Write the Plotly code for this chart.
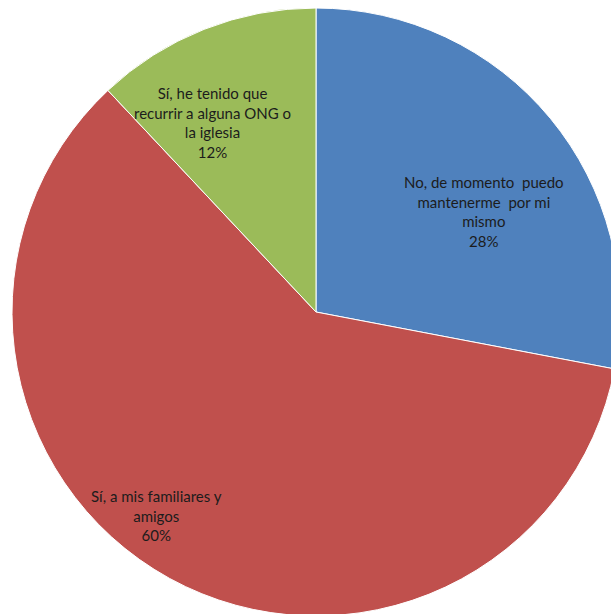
import plotly.graph_objects as go

categories = [
    "No, de momento puedo mantenerme por mi mismo",
    "Sí, a mis familiares y amigos",
    "Sí, he tenido que recurrir a alguna ONG o la iglesia",
]
display_labels = [
    "No, de momento  puedo<br>mantenerme  por mi<br>mismo",
    "Sí, a mis familiares y<br>amigos",
    "Sí, he tenido que<br>recurrir a alguna ONG o<br>la iglesia",
]
values = [28, 60, 12]
colors = ["#4F81BD", "#C0504D", "#9BBB59"]
label_pos = [(0.776, 0.666), (0.237, 0.166), (0.329, 0.8125)]

W, H = 620, 620
ML, MT, MR, MB = 12, 8, 0, 4

fig = go.Figure(go.Pie(
    labels=categories,
    values=values,
    sort=False,
    direction="clockwise",
    rotation=0,
    marker=dict(colors=colors, line=dict(color="#FFFFFF", width=1)),
    textinfo="none",
    hoverinfo="label+percent",
    showlegend=False,
))

total = sum(values)
for lab, v, (x, y) in zip(display_labels, values, label_pos):
    fig.add_annotation(
        x=x, y=y, xref="paper", yref="paper",
        xanchor="center", yanchor="middle",
        text=f"{lab}<br>{round(100 * v / total)}%",
        showarrow=False, align="center",
        font=dict(family="Lato, Open Sans, sans-serif", size=15, color="#1C1C1C"),
    )

fig.update_layout(
    width=W, height=H,
    margin=dict(l=ML, t=MT, r=MR, b=MB, pad=0),
    paper_bgcolor="white", plot_bgcolor="white",
)

fig.write_html(
    "out.html",
    config={"displayModeBar": False},
    post_script="document.body.style.margin='0';document.body.style.overflow='hidden';document.documentElement.style.overflow='hidden';",
)
